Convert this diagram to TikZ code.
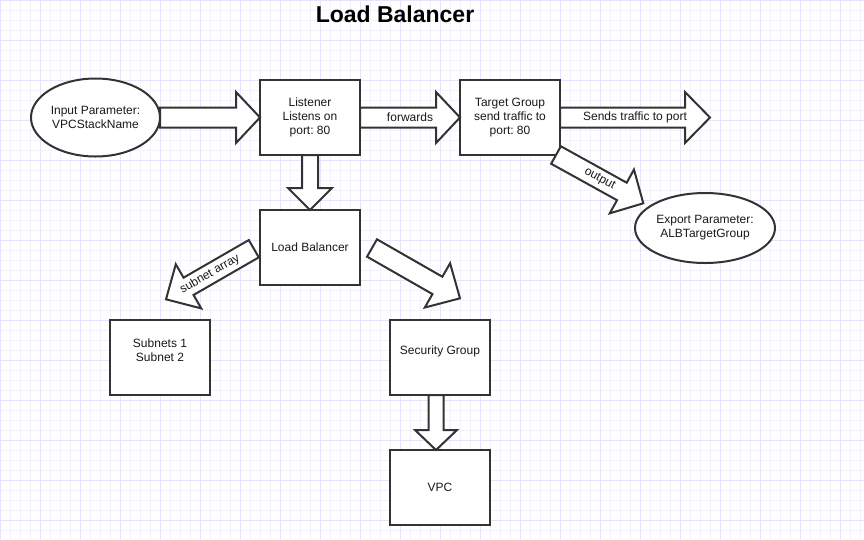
\documentclass[tikz,border=0pt]{standalone}
\usepackage{fontspec}
\setmainfont{Liberation Sans}
\frenchspacing
\usetikzlibrary{positioning,calc,shapes.geometric}

\definecolor{gridminor}{RGB}{242,242,254}
\definecolor{gridmajor}{RGB}{228,228,250}
\definecolor{edgec}{RGB}{51,51,51}
\definecolor{textc}{RGB}{25,25,25}

% block arrow: from, to, half shaft, half head, head length
\newcommand{\fatarrow}[5]{%
    \coordinate (hb) at ($(#2)!#5!(#1)$);
    \path [fat] ($(#1)!#3!90:(#2)$) -- ($(hb)!#3!90:(#2)$) -- ($(hb)!#4!90:(#2)$) -- (#2)
        -- ($(hb)!#4!-90:(#2)$) -- ($(hb)!#3!-90:(#2)$) -- ($(#1)!#3!-90:(#2)$) -- cycle;
}

\begin{document}
\begin{tikzpicture}[
    x=1pt, y=-1pt,
    box/.style={
        rectangle,
        draw=edgec,
        line width=2pt,
        fill=white,
        minimum width=100pt,
        minimum height=75pt,
        inner sep=0pt,
        outer sep=0pt,
        align=center,
        text=textc,
        font=\fontsize{12}{14}\selectfont
    },
    param/.style={
        ellipse,
        draw=edgec,
        line width=2pt,
        fill=white,
        inner sep=0pt,
        outer sep=0pt,
        align=center,
        text=textc,
        font=\fontsize{12}{14}\selectfont
    },
    fat/.style={
        draw=edgec, line width=2pt, fill=white, line join=miter
    },
    lbl/.style={
        text=textc, inner sep=0pt, font=\fontsize{12}{14}\selectfont
    }
]

    \useasboundingbox (0,0) rectangle (864,539);
    \fill[white] (0,0) rectangle (864,539);

    % Grid
    \foreach \x in {0,10,...,860}
        \draw[gridminor, line width=1pt] (\x,0) -- (\x,539);
    \foreach \y in {0,10,...,530}
        \draw[gridminor, line width=1pt] (0,\y) -- (864,\y);
    \foreach \x in {0,40,...,840}
        \draw[gridmajor, line width=1pt] (\x,0) -- (\x,539);
    \foreach \y in {0,40,...,520}
        \draw[gridmajor, line width=1pt] (0,\y) -- (864,\y);

    % Nodes
    \node [font=\fontsize{23}{26}\selectfont\bfseries] (title) at (395,14) {Load Balancer};

    \node [box] (listener) at (310,117.5) {Listener\\Listens on\\port: 80};
    \node [box, right=100pt of listener] (target) {Target Group\\send traffic to\\port: 80};
    \node [param, minimum width=129pt, minimum height=78pt, left=100pt of listener] (input) {Input Parameter:\\VPCStackName};
    \node [param, minimum width=140pt, minimum height=70pt] (export) at (705,228) {Export Parameter:\\ALBTargetGroup};

    \node [box, below=55pt of listener] (lb) {Load Balancer};
    \node [box, below left=35pt and 50pt of lb] (subnets) {Subnets 1\\Subnet 2\\\mbox{}};
    \node [box, below right=35pt and 30pt of lb] (sg) {Security Group\\\mbox{}};
    \node [box, below=55pt of sg] (vpc) {VPC};

    \coordinate (sendtip) at (710,117.5);
    \coordinate (outA) at ([xshift=-4pt]target.south east);
    \coordinate (outB) at (643.3,203.3);
    \coordinate (subA) at (253.8,248.7);
    \coordinate (subB) at (166,299.3);
    \coordinate (sgA) at (372,248);
    \coordinate (sgB) at (460,298.3);
    \coordinate (sgout) at ([xshift=-4pt]sg.south);
    \coordinate (vpcin) at ([xshift=-4pt]vpc.north);

    % Edges
    \fatarrow{input.east}{listener.west}{10pt}{25.5pt}{24pt}
    \fatarrow{listener.east}{target.west}{10pt}{25.5pt}{24pt}
    \fatarrow{target.east}{sendtip}{10pt}{25.5pt}{25pt}
    \fatarrow{outA}{outB}{10pt}{25pt}{24.5pt}
    \fatarrow{listener.south}{lb.north}{8pt}{22pt}{22pt}
    \fatarrow{subA}{subB}{10pt}{25.5pt}{26pt}
    \fatarrow{sgA}{sgB}{10pt}{25.5pt}{26pt}
    \fatarrow{sgout}{vpcin}{7.5pt}{21pt}{20pt}

    \path (listener.east) -- (target.west) node [lbl, midway] {forwards};
    \path (target.east) -- (sendtip) node [lbl, midway] {Sends traffic to port};
    \path (outA) -- (outB) node [lbl, midway, sloped] {output};
    \path (subA) -- (subB) node [lbl, midway, sloped] {subnet array};

\end{tikzpicture}
\end{document}
